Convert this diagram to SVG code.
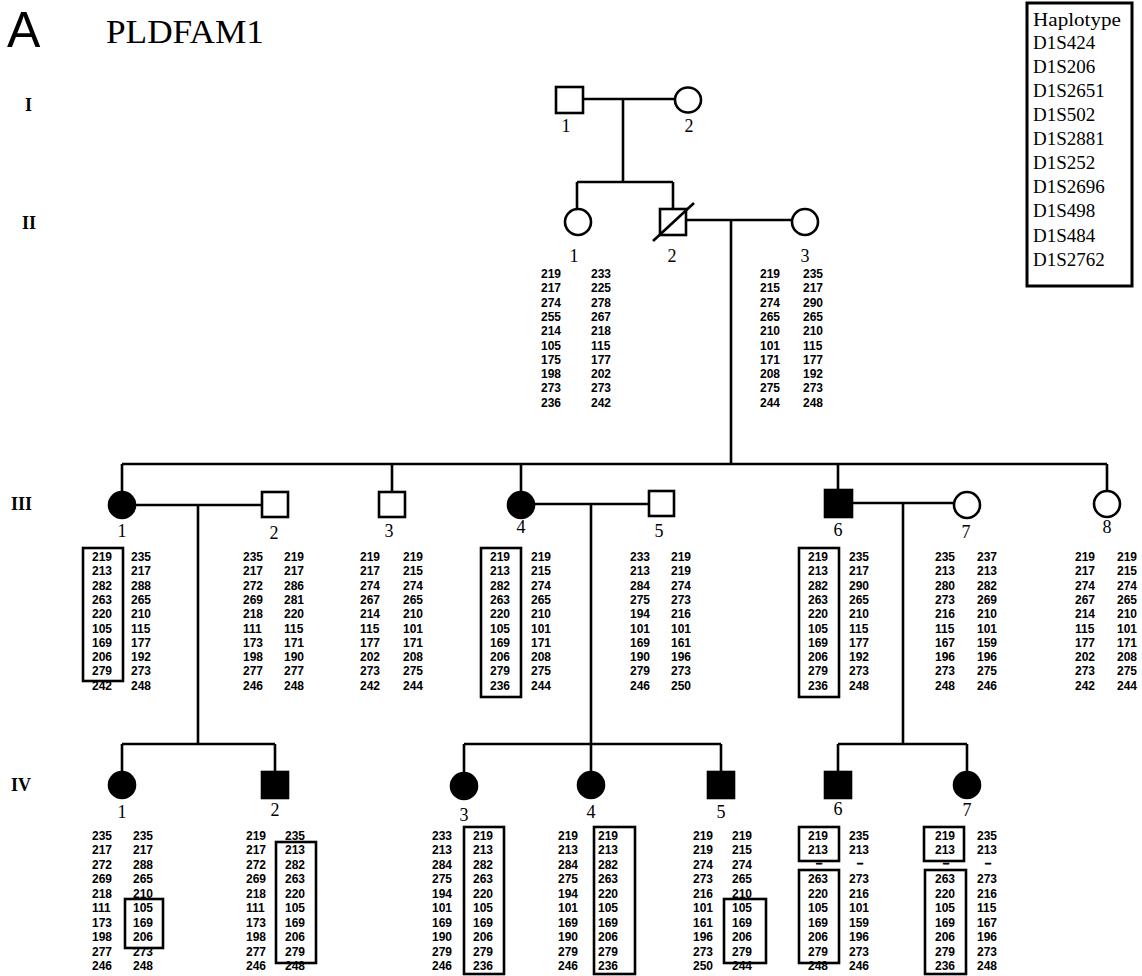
<svg xmlns="http://www.w3.org/2000/svg" width="1142" height="976" viewBox="0 0 1142 976">
<style>
.ln{stroke:#000;stroke-width:2.6;fill:none}
.sym{stroke:#000;stroke-width:2.6;fill:#fff}
.aff{stroke:#000;stroke-width:2.6;fill:#000}
.bx{stroke:#000;stroke-width:2.6;fill:none}
.n{font-family:"Liberation Sans",Arial,sans-serif;font-weight:bold;font-size:12px;fill:#000}
.d{font-family:"Liberation Sans",Arial,sans-serif;font-weight:bold;font-size:11px;text-anchor:middle;stroke:#000;stroke-width:0.8}
.lb{font-family:"Liberation Serif","Times New Roman",serif;font-size:18px;text-anchor:middle}
.gen{font-family:"Liberation Serif","Times New Roman",serif;font-weight:bold;font-size:18px}
.leg{font-family:"Liberation Serif","Times New Roman",serif;font-size:19px}
</style>
<rect width="1142" height="976" fill="#fff"/>
<g id="title">
<text x="7" y="47" font-family="Liberation Sans, Arial, sans-serif" font-size="50">A</text>
<text x="106" y="43" font-family="Liberation Serif, Times New Roman, serif" font-size="34" textLength="158" lengthAdjust="spacingAndGlyphs">PLDFAM1</text>
</g>
<g id="generations">
<text class="gen" x="25" y="111">I</text>
<text class="gen" x="22" y="229">II</text>
<text class="gen" x="11" y="510">III</text>
<text class="gen" x="11" y="791">IV</text>
</g>
<g id="legend">
<rect x="1027" y="3" width="105" height="283" fill="none" stroke="#000" stroke-width="3"/>
<text class="leg" x="1033" y="26" textLength="88" lengthAdjust="spacingAndGlyphs">Haplotype</text>
<text class="leg" x="1033" y="49">D1S424</text>
<text class="leg" x="1033" y="73">D1S206</text>
<text class="leg" x="1033" y="97">D1S2651</text>
<text class="leg" x="1033" y="121">D1S502</text>
<text class="leg" x="1033" y="145">D1S2881</text>
<text class="leg" x="1033" y="169">D1S252</text>
<text class="leg" x="1033" y="193">D1S2696</text>
<text class="leg" x="1033" y="217">D1S498</text>
<text class="leg" x="1033" y="242">D1S484</text>
<text class="leg" x="1033" y="266">D1S2762</text>
</g>
<g id="connectors">
<path class="ln" d="M583,99H675M623,99V182M577,182H673M577,182V209M673,182V209"/>
<path class="ln" d="M686,220H792M731,220V464"/>
<path class="ln" d="M122,464H1107M122,464V492M392,464V492M521,464V492M838,464V491M1107,464V491"/>
<path class="ln" d="M135,505H262M534,504H649M851,503H954"/>
<path class="ln" d="M198,505V744M591,504V772M903,503V744"/>
<path class="ln" d="M122,744H275M464,744H721M838,744H967"/>
<path class="ln" d="M122,744V772M275,744V772M464,744V773M721,744V772M838,744V772M967,744V772"/>
</g>
<g id="I-1"><rect class="sym" x="556" y="87" width="27" height="26"/><text class="lb" x="566" y="132">1</text></g>
<g id="I-2"><ellipse class="sym" cx="688" cy="100" rx="13" ry="12.5"/><text class="lb" x="689" y="132">2</text></g>
<g id="II-1"><ellipse class="sym" cx="578" cy="222" rx="13" ry="13"/><text class="lb" x="574" y="262">1</text>
<text class="n" x="541" y="278"><tspan x="541">219</tspan><tspan x="541" dy="14.3">217</tspan><tspan x="541" dy="14.3">274</tspan><tspan x="541" dy="14.3">255</tspan><tspan x="541" dy="14.3">214</tspan><tspan x="541" dy="14.3">105</tspan><tspan x="541" dy="14.3">175</tspan><tspan x="541" dy="14.3">198</tspan><tspan x="541" dy="14.3">273</tspan><tspan x="541" dy="14.3">236</tspan></text>
<text class="n" x="591" y="278"><tspan x="591">233</tspan><tspan x="591" dy="14.3">225</tspan><tspan x="591" dy="14.3">278</tspan><tspan x="591" dy="14.3">267</tspan><tspan x="591" dy="14.3">218</tspan><tspan x="591" dy="14.3">115</tspan><tspan x="591" dy="14.3">177</tspan><tspan x="591" dy="14.3">202</tspan><tspan x="591" dy="14.3">273</tspan><tspan x="591" dy="14.3">242</tspan></text>
</g>
<g id="II-2"><rect class="sym" x="660" y="209" width="26" height="26"/><line class="ln" x1="653" y1="241" x2="694" y2="203"/><text class="lb" x="672" y="262">2</text></g>
<g id="II-3"><ellipse class="sym" cx="805" cy="222" rx="13" ry="13"/><text class="lb" x="805" y="262">3</text>
<text class="n" x="760" y="278"><tspan x="760">219</tspan><tspan x="760" dy="14.3">215</tspan><tspan x="760" dy="14.3">274</tspan><tspan x="760" dy="14.3">265</tspan><tspan x="760" dy="14.3">210</tspan><tspan x="760" dy="14.3">101</tspan><tspan x="760" dy="14.3">171</tspan><tspan x="760" dy="14.3">208</tspan><tspan x="760" dy="14.3">275</tspan><tspan x="760" dy="14.3">244</tspan></text>
<text class="n" x="803" y="278"><tspan x="803">235</tspan><tspan x="803" dy="14.3">217</tspan><tspan x="803" dy="14.3">290</tspan><tspan x="803" dy="14.3">265</tspan><tspan x="803" dy="14.3">210</tspan><tspan x="803" dy="14.3">115</tspan><tspan x="803" dy="14.3">177</tspan><tspan x="803" dy="14.3">192</tspan><tspan x="803" dy="14.3">273</tspan><tspan x="803" dy="14.3">248</tspan></text>
</g>
<g id="III-1"><circle class="aff" cx="122" cy="505" r="13"/><text class="lb" x="122" y="537">1</text>
<rect class="bx" x="83" y="548" width="40" height="133"/>
<text class="n" x="92" y="561"><tspan x="92">219</tspan><tspan x="92" dy="14.3">213</tspan><tspan x="92" dy="14.3">282</tspan><tspan x="92" dy="14.3">263</tspan><tspan x="92" dy="14.3">220</tspan><tspan x="92" dy="14.3">105</tspan><tspan x="92" dy="14.3">169</tspan><tspan x="92" dy="14.3">206</tspan><tspan x="92" dy="14.3">279</tspan><tspan x="92" dy="14.3">242</tspan></text>
<text class="n" x="131" y="561"><tspan x="131">235</tspan><tspan x="131" dy="14.3">217</tspan><tspan x="131" dy="14.3">288</tspan><tspan x="131" dy="14.3">265</tspan><tspan x="131" dy="14.3">210</tspan><tspan x="131" dy="14.3">115</tspan><tspan x="131" dy="14.3">177</tspan><tspan x="131" dy="14.3">192</tspan><tspan x="131" dy="14.3">273</tspan><tspan x="131" dy="14.3">248</tspan></text>
</g>
<g id="III-2"><rect class="sym" x="262" y="492" width="26" height="25"/><text class="lb" x="274" y="539">2</text>
<text class="n" x="243" y="561"><tspan x="243">235</tspan><tspan x="243" dy="14.3">217</tspan><tspan x="243" dy="14.3">272</tspan><tspan x="243" dy="14.3">269</tspan><tspan x="243" dy="14.3">218</tspan><tspan x="243" dy="14.3">111</tspan><tspan x="243" dy="14.3">173</tspan><tspan x="243" dy="14.3">198</tspan><tspan x="243" dy="14.3">277</tspan><tspan x="243" dy="14.3">246</tspan></text>
<text class="n" x="284" y="561"><tspan x="284">219</tspan><tspan x="284" dy="14.3">217</tspan><tspan x="284" dy="14.3">286</tspan><tspan x="284" dy="14.3">281</tspan><tspan x="284" dy="14.3">220</tspan><tspan x="284" dy="14.3">115</tspan><tspan x="284" dy="14.3">171</tspan><tspan x="284" dy="14.3">190</tspan><tspan x="284" dy="14.3">277</tspan><tspan x="284" dy="14.3">248</tspan></text>
</g>
<g id="III-3"><rect class="sym" x="379" y="492" width="26" height="25"/><text class="lb" x="389" y="537">3</text>
<text class="n" x="360" y="561"><tspan x="360">219</tspan><tspan x="360" dy="14.3">217</tspan><tspan x="360" dy="14.3">274</tspan><tspan x="360" dy="14.3">267</tspan><tspan x="360" dy="14.3">214</tspan><tspan x="360" dy="14.3">115</tspan><tspan x="360" dy="14.3">177</tspan><tspan x="360" dy="14.3">202</tspan><tspan x="360" dy="14.3">273</tspan><tspan x="360" dy="14.3">242</tspan></text>
<text class="n" x="403" y="561"><tspan x="403">219</tspan><tspan x="403" dy="14.3">215</tspan><tspan x="403" dy="14.3">274</tspan><tspan x="403" dy="14.3">265</tspan><tspan x="403" dy="14.3">210</tspan><tspan x="403" dy="14.3">101</tspan><tspan x="403" dy="14.3">171</tspan><tspan x="403" dy="14.3">208</tspan><tspan x="403" dy="14.3">275</tspan><tspan x="403" dy="14.3">244</tspan></text>
</g>
<g id="III-4"><circle class="aff" cx="521" cy="505" r="13"/><text class="lb" x="521" y="533">4</text>
<rect class="bx" x="481" y="548" width="40" height="149"/>
<text class="n" x="490" y="561"><tspan x="490">219</tspan><tspan x="490" dy="14.3">213</tspan><tspan x="490" dy="14.3">282</tspan><tspan x="490" dy="14.3">263</tspan><tspan x="490" dy="14.3">220</tspan><tspan x="490" dy="14.3">105</tspan><tspan x="490" dy="14.3">169</tspan><tspan x="490" dy="14.3">206</tspan><tspan x="490" dy="14.3">279</tspan><tspan x="490" dy="14.3">236</tspan></text>
<text class="n" x="531" y="561"><tspan x="531">219</tspan><tspan x="531" dy="14.3">215</tspan><tspan x="531" dy="14.3">274</tspan><tspan x="531" dy="14.3">265</tspan><tspan x="531" dy="14.3">210</tspan><tspan x="531" dy="14.3">101</tspan><tspan x="531" dy="14.3">171</tspan><tspan x="531" dy="14.3">208</tspan><tspan x="531" dy="14.3">275</tspan><tspan x="531" dy="14.3">244</tspan></text>
</g>
<g id="III-5"><rect class="sym" x="649" y="491" width="25" height="25"/><text class="lb" x="659" y="537">5</text>
<text class="n" x="630" y="561"><tspan x="630">233</tspan><tspan x="630" dy="14.3">213</tspan><tspan x="630" dy="14.3">284</tspan><tspan x="630" dy="14.3">275</tspan><tspan x="630" dy="14.3">194</tspan><tspan x="630" dy="14.3">101</tspan><tspan x="630" dy="14.3">169</tspan><tspan x="630" dy="14.3">190</tspan><tspan x="630" dy="14.3">279</tspan><tspan x="630" dy="14.3">246</tspan></text>
<text class="n" x="671" y="561"><tspan x="671">219</tspan><tspan x="671" dy="14.3">219</tspan><tspan x="671" dy="14.3">274</tspan><tspan x="671" dy="14.3">273</tspan><tspan x="671" dy="14.3">216</tspan><tspan x="671" dy="14.3">101</tspan><tspan x="671" dy="14.3">161</tspan><tspan x="671" dy="14.3">196</tspan><tspan x="671" dy="14.3">273</tspan><tspan x="671" dy="14.3">250</tspan></text>
</g>
<g id="III-6"><rect class="aff" x="825" y="490" width="27" height="27"/><text class="lb" x="838" y="536">6</text>
<rect class="bx" x="799" y="548" width="40" height="149"/>
<text class="n" x="808" y="561"><tspan x="808">219</tspan><tspan x="808" dy="14.3">213</tspan><tspan x="808" dy="14.3">282</tspan><tspan x="808" dy="14.3">263</tspan><tspan x="808" dy="14.3">220</tspan><tspan x="808" dy="14.3">105</tspan><tspan x="808" dy="14.3">169</tspan><tspan x="808" dy="14.3">206</tspan><tspan x="808" dy="14.3">279</tspan><tspan x="808" dy="14.3">236</tspan></text>
<text class="n" x="849" y="561"><tspan x="849">235</tspan><tspan x="849" dy="14.3">217</tspan><tspan x="849" dy="14.3">290</tspan><tspan x="849" dy="14.3">265</tspan><tspan x="849" dy="14.3">210</tspan><tspan x="849" dy="14.3">115</tspan><tspan x="849" dy="14.3">177</tspan><tspan x="849" dy="14.3">192</tspan><tspan x="849" dy="14.3">273</tspan><tspan x="849" dy="14.3">248</tspan></text>
</g>
<g id="III-7"><circle class="sym" cx="967" cy="505" r="13"/><text class="lb" x="966" y="538">7</text>
<text class="n" x="935" y="561"><tspan x="935">235</tspan><tspan x="935" dy="14.3">213</tspan><tspan x="935" dy="14.3">280</tspan><tspan x="935" dy="14.3">273</tspan><tspan x="935" dy="14.3">216</tspan><tspan x="935" dy="14.3">115</tspan><tspan x="935" dy="14.3">167</tspan><tspan x="935" dy="14.3">196</tspan><tspan x="935" dy="14.3">273</tspan><tspan x="935" dy="14.3">248</tspan></text>
<text class="n" x="977" y="561"><tspan x="977">237</tspan><tspan x="977" dy="14.3">213</tspan><tspan x="977" dy="14.3">282</tspan><tspan x="977" dy="14.3">269</tspan><tspan x="977" dy="14.3">210</tspan><tspan x="977" dy="14.3">101</tspan><tspan x="977" dy="14.3">159</tspan><tspan x="977" dy="14.3">196</tspan><tspan x="977" dy="14.3">275</tspan><tspan x="977" dy="14.3">246</tspan></text>
</g>
<g id="III-8"><circle class="sym" cx="1107" cy="504" r="13"/><text class="lb" x="1107" y="533">8</text>
<text class="n" x="1075" y="561"><tspan x="1075">219</tspan><tspan x="1075" dy="14.3">217</tspan><tspan x="1075" dy="14.3">274</tspan><tspan x="1075" dy="14.3">267</tspan><tspan x="1075" dy="14.3">214</tspan><tspan x="1075" dy="14.3">115</tspan><tspan x="1075" dy="14.3">177</tspan><tspan x="1075" dy="14.3">202</tspan><tspan x="1075" dy="14.3">273</tspan><tspan x="1075" dy="14.3">242</tspan></text>
<text class="n" x="1117" y="561"><tspan x="1117">219</tspan><tspan x="1117" dy="14.3">215</tspan><tspan x="1117" dy="14.3">274</tspan><tspan x="1117" dy="14.3">265</tspan><tspan x="1117" dy="14.3">210</tspan><tspan x="1117" dy="14.3">101</tspan><tspan x="1117" dy="14.3">171</tspan><tspan x="1117" dy="14.3">208</tspan><tspan x="1117" dy="14.3">275</tspan><tspan x="1117" dy="14.3">244</tspan></text>
</g>
<g id="IV-1"><circle class="aff" cx="122" cy="785" r="13"/><text class="lb" x="122" y="818">1</text>
<rect class="bx" x="125" y="899" width="38" height="49"/>
<text class="n" x="92" y="840"><tspan x="92">235</tspan><tspan x="92" dy="14.44">217</tspan><tspan x="92" dy="14.44">272</tspan><tspan x="92" dy="14.44">269</tspan><tspan x="92" dy="14.44">218</tspan><tspan x="92" dy="14.44">111</tspan><tspan x="92" dy="14.44">173</tspan><tspan x="92" dy="14.44">198</tspan><tspan x="92" dy="14.44">277</tspan><tspan x="92" dy="14.44">246</tspan></text>
<text class="n" x="133" y="840"><tspan x="133">235</tspan><tspan x="133" dy="14.44">217</tspan><tspan x="133" dy="14.44">288</tspan><tspan x="133" dy="14.44">265</tspan><tspan x="133" dy="14.44">210</tspan><tspan x="133" dy="14.44">105</tspan><tspan x="133" dy="14.44">169</tspan><tspan x="133" dy="14.44">206</tspan><tspan x="133" dy="14.44">273</tspan><tspan x="133" dy="14.44">248</tspan></text>
</g>
<g id="IV-2"><rect class="aff" x="262" y="772" width="26" height="26"/><text class="lb" x="275" y="816">2</text>
<rect class="bx" x="276" y="842" width="40" height="121"/>
<text class="n" x="246" y="840"><tspan x="246">219</tspan><tspan x="246" dy="14.44">217</tspan><tspan x="246" dy="14.44">272</tspan><tspan x="246" dy="14.44">269</tspan><tspan x="246" dy="14.44">218</tspan><tspan x="246" dy="14.44">111</tspan><tspan x="246" dy="14.44">173</tspan><tspan x="246" dy="14.44">198</tspan><tspan x="246" dy="14.44">277</tspan><tspan x="246" dy="14.44">246</tspan></text>
<text class="n" x="285" y="840"><tspan x="285">235</tspan><tspan x="285" dy="14.44">213</tspan><tspan x="285" dy="14.44">282</tspan><tspan x="285" dy="14.44">263</tspan><tspan x="285" dy="14.44">220</tspan><tspan x="285" dy="14.44">105</tspan><tspan x="285" dy="14.44">169</tspan><tspan x="285" dy="14.44">206</tspan><tspan x="285" dy="14.44">279</tspan><tspan x="285" dy="14.44">248</tspan></text>
</g>
<g id="IV-3"><circle class="aff" cx="464" cy="786" r="13"/><text class="lb" x="464" y="821">3</text>
<rect class="bx" x="464" y="827" width="40" height="147"/>
<text class="n" x="432" y="840"><tspan x="432">233</tspan><tspan x="432" dy="14.44">213</tspan><tspan x="432" dy="14.44">284</tspan><tspan x="432" dy="14.44">275</tspan><tspan x="432" dy="14.44">194</tspan><tspan x="432" dy="14.44">101</tspan><tspan x="432" dy="14.44">169</tspan><tspan x="432" dy="14.44">190</tspan><tspan x="432" dy="14.44">279</tspan><tspan x="432" dy="14.44">246</tspan></text>
<text class="n" x="473" y="840"><tspan x="473">219</tspan><tspan x="473" dy="14.44">213</tspan><tspan x="473" dy="14.44">282</tspan><tspan x="473" dy="14.44">263</tspan><tspan x="473" dy="14.44">220</tspan><tspan x="473" dy="14.44">105</tspan><tspan x="473" dy="14.44">169</tspan><tspan x="473" dy="14.44">206</tspan><tspan x="473" dy="14.44">279</tspan><tspan x="473" dy="14.44">236</tspan></text>
</g>
<g id="IV-4"><circle class="aff" cx="591" cy="785" r="13"/><text class="lb" x="591" y="818">4</text>
<rect class="bx" x="594" y="827" width="41" height="147"/>
<text class="n" x="558" y="840"><tspan x="558">219</tspan><tspan x="558" dy="14.44">213</tspan><tspan x="558" dy="14.44">284</tspan><tspan x="558" dy="14.44">275</tspan><tspan x="558" dy="14.44">194</tspan><tspan x="558" dy="14.44">101</tspan><tspan x="558" dy="14.44">169</tspan><tspan x="558" dy="14.44">190</tspan><tspan x="558" dy="14.44">279</tspan><tspan x="558" dy="14.44">246</tspan></text>
<text class="n" x="598" y="840"><tspan x="598">219</tspan><tspan x="598" dy="14.44">213</tspan><tspan x="598" dy="14.44">282</tspan><tspan x="598" dy="14.44">263</tspan><tspan x="598" dy="14.44">220</tspan><tspan x="598" dy="14.44">105</tspan><tspan x="598" dy="14.44">169</tspan><tspan x="598" dy="14.44">206</tspan><tspan x="598" dy="14.44">279</tspan><tspan x="598" dy="14.44">236</tspan></text>
</g>
<g id="IV-5"><rect class="aff" x="708" y="772" width="26" height="26"/><text class="lb" x="721" y="818">5</text>
<rect class="bx" x="724" y="899" width="42" height="64"/>
<text class="n" x="693" y="840"><tspan x="693">219</tspan><tspan x="693" dy="14.44">219</tspan><tspan x="693" dy="14.44">274</tspan><tspan x="693" dy="14.44">273</tspan><tspan x="693" dy="14.44">216</tspan><tspan x="693" dy="14.44">101</tspan><tspan x="693" dy="14.44">161</tspan><tspan x="693" dy="14.44">196</tspan><tspan x="693" dy="14.44">273</tspan><tspan x="693" dy="14.44">250</tspan></text>
<text class="n" x="732" y="840"><tspan x="732">219</tspan><tspan x="732" dy="14.44">215</tspan><tspan x="732" dy="14.44">274</tspan><tspan x="732" dy="14.44">265</tspan><tspan x="732" dy="14.44">210</tspan><tspan x="732" dy="14.44">105</tspan><tspan x="732" dy="14.44">169</tspan><tspan x="732" dy="14.44">206</tspan><tspan x="732" dy="14.44">279</tspan><tspan x="732" dy="14.44">244</tspan></text>
</g>
<g id="IV-6"><rect class="aff" x="825" y="772" width="26" height="26"/><text class="lb" x="838" y="815">6</text>
<rect class="bx" x="799" y="827" width="40" height="34"/>
<rect class="bx" x="799" y="870" width="40" height="93"/>
<text class="n" x="808" y="840"><tspan x="808">219</tspan><tspan x="808" dy="14.44">213</tspan><tspan x="808" dy="28.88">263</tspan><tspan x="808" dy="14.44">220</tspan><tspan x="808" dy="14.44">105</tspan><tspan x="808" dy="14.44">169</tspan><tspan x="808" dy="14.44">206</tspan><tspan x="808" dy="14.44">279</tspan><tspan x="808" dy="14.44">248</tspan></text>
<text class="n" x="849" y="840"><tspan x="849">235</tspan><tspan x="849" dy="14.44">213</tspan><tspan x="849" dy="28.88">273</tspan><tspan x="849" dy="14.44">216</tspan><tspan x="849" dy="14.44">101</tspan><tspan x="849" dy="14.44">159</tspan><tspan x="849" dy="14.44">196</tspan><tspan x="849" dy="14.44">273</tspan><tspan x="849" dy="14.44">246</tspan></text>
<text class="d" x="819" y="867">–</text><text class="d" x="860" y="867">–</text>
</g>
<g id="IV-7"><circle class="aff" cx="967" cy="785" r="13"/><text class="lb" x="967" y="816">7</text>
<rect class="bx" x="924" y="827" width="40" height="34"/>
<rect class="bx" x="925" y="870" width="41" height="104"/>
<text class="n" x="935" y="840"><tspan x="935">219</tspan><tspan x="935" dy="14.44">213</tspan><tspan x="935" dy="28.88">263</tspan><tspan x="935" dy="14.44">220</tspan><tspan x="935" dy="14.44">105</tspan><tspan x="935" dy="14.44">169</tspan><tspan x="935" dy="14.44">206</tspan><tspan x="935" dy="14.44">279</tspan><tspan x="935" dy="14.44">236</tspan></text>
<text class="n" x="977" y="840"><tspan x="977">235</tspan><tspan x="977" dy="14.44">213</tspan><tspan x="977" dy="28.88">273</tspan><tspan x="977" dy="14.44">216</tspan><tspan x="977" dy="14.44">115</tspan><tspan x="977" dy="14.44">167</tspan><tspan x="977" dy="14.44">196</tspan><tspan x="977" dy="14.44">273</tspan><tspan x="977" dy="14.44">248</tspan></text>
<text class="d" x="946" y="867">–</text><text class="d" x="988" y="867">–</text>
</g>
</svg>
